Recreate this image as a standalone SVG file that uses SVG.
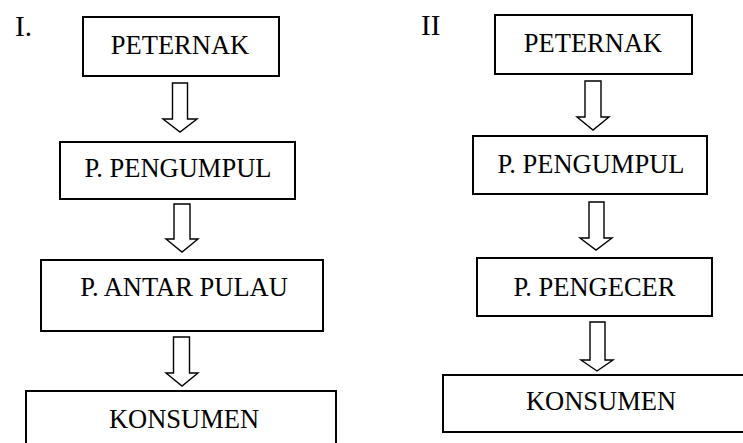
<svg xmlns="http://www.w3.org/2000/svg" width="743" height="443" viewBox="0 0 743 443">
<style>
.box{fill:#fff;stroke:#000;stroke-width:2}
.arr{fill:#fff;stroke:#000;stroke-width:1.4;stroke-linejoin:miter}
text{font-family:"Liberation Serif","Times New Roman",serif;font-size:26.5px;fill:#000}
.lbl{text-anchor:middle}
.num{font-size:29px}
</style>
<rect width="743" height="443" fill="#fff"/>
<text class="num" x="15" y="36">I.</text>
<text class="num" x="421" y="35">II</text>
<g id="connectors">
<path class="arr" d="M172.5,83 H187.5 V119 H197 L180,132 L163,119 H172.5 Z"/>
<path class="arr" d="M174,204 H190 V239 H198 L182,252 L166,239 H174 Z"/>
<path class="arr" d="M173.5,337 H189.5 V373 H198 L182,386 L166,373 H173.5 Z"/>
<path class="arr" d="M585,81 H601 V117 H609 L593,130 L577,117 H585 Z"/>
<path class="arr" d="M589,202 H604 V238 H612 L596,250 L580,238 H589 Z"/>
<path class="arr" d="M590,322 H605 V360 H613 L597,371 L581,360 H590 Z"/>
</g>
<g id="l-peternak"><rect class="box" x="83" y="17" width="196" height="59"/><text class="lbl" x="180" y="54">PETERNAK</text></g>
<g id="l-pengumpul"><rect class="box" x="60" y="142" width="235" height="57"/><text class="lbl" x="178" y="177">P. PENGUMPUL</text></g>
<g id="l-antarpulau"><rect class="box" x="41" y="260" width="282" height="71"/><text class="lbl" x="184" y="296">P. ANTAR PULAU</text></g>
<g id="l-konsumen"><rect class="box" x="26" y="391" width="310" height="70"/><text class="lbl" x="184" y="428">KONSUMEN</text></g>
<g id="r-peternak"><rect class="box" x="495" y="15" width="197" height="59"/><text class="lbl" x="593" y="52">PETERNAK</text></g>
<g id="r-pengumpul"><rect class="box" x="473" y="136" width="234" height="58"/><text class="lbl" x="591" y="173">P. PENGUMPUL</text></g>
<g id="r-pengecer"><rect class="box" x="477" y="258" width="235" height="58"/><text class="lbl" x="594.5" y="296">P. PENGECER</text></g>
<g id="r-konsumen"><rect class="box" x="443" y="375" width="310" height="57"/><text class="lbl" x="601" y="410">KONSUMEN</text></g>
</svg>
